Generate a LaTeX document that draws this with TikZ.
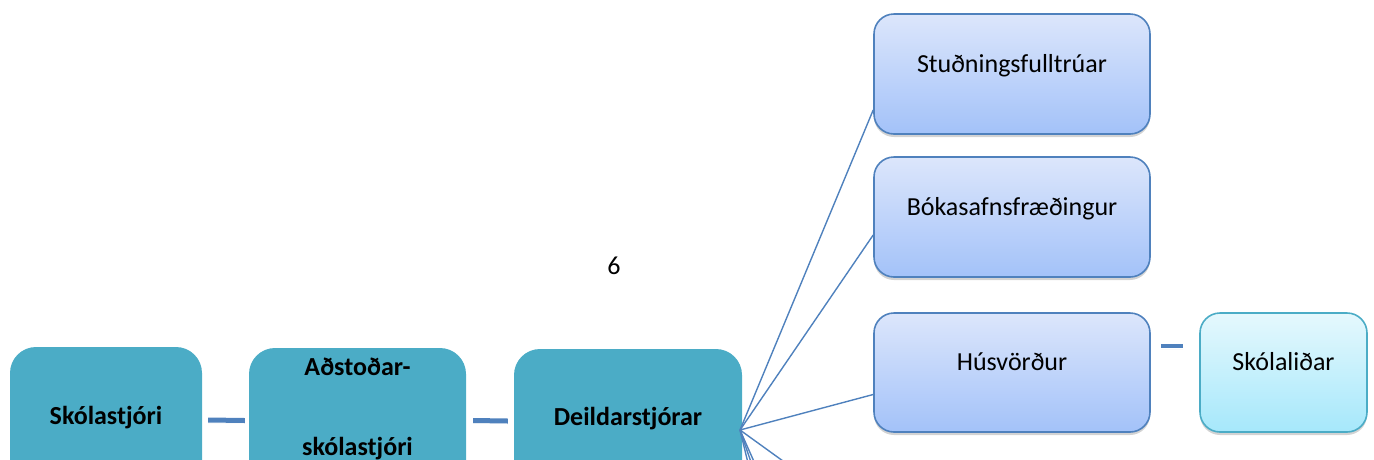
\documentclass[tikz,border=0pt]{standalone}
\usepackage{fontspec}
\setmainfont{Carlito}
\usetikzlibrary{shadows,calc}
\definecolor{teal}{RGB}{75,172,198}
\definecolor{linkblue}{RGB}{79,129,189}
\definecolor{bluetop}{RGB}{220,230,251}
\definecolor{bluebot}{RGB}{163,194,249}
\definecolor{cyantop}{RGB}{229,248,253}
\definecolor{cyanbot}{RGB}{166,232,251}
\tikzset{
  tealbox/.style={draw=none, fill=teal, rounded corners=26pt, inner sep=0pt},
  bluebox/.style={draw=linkblue, line width=1.6pt, rounded corners=20pt, inner sep=0pt,
    top color=bluetop, bottom color=bluebot,
    drop shadow={opacity=0.35, shadow xshift=0pt, shadow yshift=-3pt}},
  cyanbox/.style={draw=teal, line width=1.6pt, rounded corners=20pt, inner sep=0pt,
    top color=cyantop, bottom color=cyanbot,
    drop shadow={opacity=0.35, shadow xshift=0pt, shadow yshift=-3pt}},
  label/.style={font=\fontsize{26}{31}\selectfont, inner sep=0pt, anchor=base},
  boldlabel/.style={label, font=\fontsize{26}{31}\selectfont\bfseries},
  dashlink/.style={draw=linkblue, line width=5pt,
    drop shadow={opacity=0.3, shadow xshift=0pt, shadow yshift=-3pt}},
  fanline/.style={draw=linkblue, line width=1.4pt}
}
\begin{document}
\begin{tikzpicture}[x=1pt,y=-1pt]
\useasboundingbox (0,0) rectangle (1374,459);
\clip (0,0) rectangle (1374,459);
% teal boxes
\node[tealbox, minimum width=192pt, minimum height=146pt] (sk) at (106,420) {};
\node[tealbox, minimum width=217pt, minimum height=145pt] (as) at (357.5,420.5) {};
\node[tealbox, minimum width=228pt, minimum height=144pt] (ds) at (628,421) {};
\node[boldlabel] (skt) at (106,424) {Skólastjóri};
\node[boldlabel] (ast1) at (357.5,375) {Aðstoðar-};
\node[boldlabel] (ast2) at (357.5,455) {skólastjóri};
\node[boldlabel] (dst) at (628,425) {Deildarstjórar};
% dash links
\draw[dashlink] ([xshift=6pt]sk.east) -- ([xshift=-4pt]as.west);
\draw[dashlink] ([xshift=7pt]as.east) -- ([xshift=-6pt]ds.west);
% blue boxes
\node[bluebox, minimum width=276pt, minimum height=120pt] (st) at (1012,74) {};
\node[bluebox, minimum width=276pt, minimum height=120pt] (bo) at (1012,217) {};
\node[bluebox, minimum width=276pt, minimum height=119pt] (hu) at (1012,372.5) {};
\node[cyanbox, minimum width=167pt, minimum height=119pt] (sl) at (1283.5,372.5) {};
\node[label] (stt) at (1012,72) {Stuðningsfulltrúar};
\node[label] (bot) at (1012,215) {Bókasafnsfræðingur};
\node[label] (hut) at (1012,370) {Húsvörður};
\node[label] (slt) at (1283.5,370) {Skólaliðar};
\draw[dashlink, line width=4.5pt] ([xshift=10pt]hu.east |- 0,346) -- ([xshift=-16pt]sl.west |- 0,346);
% page number
\node[label] (six) at (614,274) {6};
% fan
\coordinate (fan) at (740,430);
\coordinate (d1) at (757,500);
\coordinate (d2) at (764,500);
\coordinate (d3) at (771,500);
\coordinate (d4) at (837,500);
\draw[fanline] (fan) -- ([yshift=-36pt]st.west);
\draw[fanline] (fan) -- ([yshift=-18pt]bo.west);
\draw[fanline] (fan) -- ([yshift=-22pt]hu.west);
\draw[fanline] (fan) -- (d1);
\draw[fanline] (fan) -- (d2);
\draw[fanline] (fan) -- (d3);
\draw[fanline] (fan) -- (d4);
\end{tikzpicture}
\end{document}
